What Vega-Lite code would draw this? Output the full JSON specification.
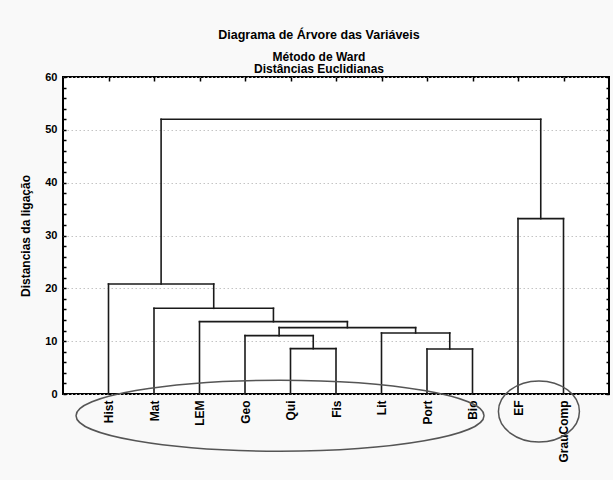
{
  "$schema": "https://vega.github.io/schema/vega-lite/v6.json",
  "autosize": {"type": "none"},
  "padding": {"left": 63, "top": 77, "right": 4, "bottom": 86},
  "width": 546,
  "height": 317,
  "background": "#f9f9f9",
  "config": {
    "font": "Liberation Sans",
    "view": {"fill": "white", "stroke": "black", "strokeWidth": 2},
    "axis": {
      "labelFont": "Liberation Sans",
      "labelFontWeight": "bold",
      "labelColor": "black",
      "titleFont": "Liberation Sans",
      "titleFontWeight": "bold",
      "titleColor": "black",
      "tickColor": "black",
      "tickWidth": 1.5
    }
  },
  "title": {
    "text": "Diagrama de Árvore das Variáveis",
    "subtitle": ["Método de Ward", "Distâncias Euclidianas"],
    "font": "Liberation Sans",
    "fontSize": 12.5,
    "fontWeight": "bold",
    "color": "black",
    "subtitleFont": "Liberation Sans",
    "subtitleFontSize": 12,
    "subtitleFontWeight": "bold",
    "subtitleColor": "black",
    "subtitleLineHeight": 12.5,
    "subtitlePadding": 10,
    "anchor": "middle",
    "dx": -17,
    "dy": 6,
    "offset": 2
  },
  "datasets": {
    "merges": [
      {"left": 5, "right": 6, "h": 8.58, "hl": 0, "hr": 0},
      {"left": 8, "right": 9, "h": 8.52, "hl": 0, "hr": 0},
      {"left": 4, "right": 5.5, "h": 11.04, "hl": 0, "hr": 8.58},
      {"left": 7, "right": 8.5, "h": 11.55, "hl": 0, "hr": 8.52},
      {"left": 4.75, "right": 7.75, "h": 12.56, "hl": 11.04, "hr": 11.55},
      {"left": 3, "right": 6.25, "h": 13.69, "hl": 0, "hr": 12.56},
      {"left": 2, "right": 4.625, "h": 16.22, "hl": 0, "hr": 13.69},
      {"left": 1, "right": 3.3125, "h": 20.82, "hl": 0, "hr": 16.22},
      {"left": 10, "right": 11, "h": 33.19, "hl": 0, "hr": 0},
      {"left": 2.15625, "right": 10.5, "h": 51.99, "hl": 20.82, "hr": 33.19}
    ]
  },
  "layer": [
    {
      "data": {"name": "merges"},
      "mark": {"type": "rule", "color": "#1a1a1a", "strokeWidth": 1.6, "strokeCap": "square"},
      "encoding": {
        "x": {
          "field": "left", "type": "quantitative",
          "scale": {"domain": [0, 12], "nice": false, "zero": false},
          "axis": {
            "orient": "bottom",
            "values": [1, 2, 3, 4, 5, 6, 7, 8, 9, 10, 11],
            "labelExpr": "['','Hist','Mat','LEM','Geo','Qui','Fis','Lit','Port','Bio','EF','GrauComp'][datum.value]",
            "labelAngle": -90,
            "labelFontSize": 12,
            "labelPadding": 6,
            "labelOverlap": false,
            "ticks": false,
            "domain": false,
            "grid": false,
            "title": null
          }
        },
        "x2": {"field": "right"},
        "y": {
          "field": "h", "type": "quantitative",
          "scale": {"domain": [0, 60], "nice": false},
          "axis": {
            "orient": "left",
            "values": [0, 2, 4, 6, 8, 10, 12, 14, 16, 18, 20, 22, 24, 26, 28, 30, 32, 34, 36, 38, 40, 42, 44, 46, 48, 50, 52, 54, 56, 58, 60],
            "labelExpr": "datum.value % 10 === 0 ? datum.label : ''",
            "labelOverlap": false,
            "labelFontSize": 11,
            "labelPadding": 9,
            "tickSize": -3,
            "domain": false,
            "grid": true,
            "gridColor": "#c4c4c4",
            "gridDash": [1.5, 2.5],
            "gridWidth": 1,
            "gridOpacity": {"condition": {"test": "datum.value % 10 === 0", "value": 1}, "value": 0},
            "title": "Distancias da ligação",
            "titleFontSize": 12,
            "titlePadding": 12
          }
        }
      }
    },
    {
      "data": {"name": "merges"},
      "mark": {"type": "rule", "color": "#1a1a1a", "strokeWidth": 1.6, "strokeCap": "square"},
      "encoding": {
        "x": {"field": "left", "type": "quantitative", "scale": {"domain": [0, 12], "nice": false, "zero": false}, "axis": null},
        "y": {"field": "hl", "type": "quantitative", "scale": {"domain": [0, 60], "nice": false}, "axis": null},
        "y2": {"field": "h"}
      }
    },
    {
      "data": {"name": "merges"},
      "mark": {"type": "rule", "color": "#1a1a1a", "strokeWidth": 1.6, "strokeCap": "square"},
      "encoding": {
        "x": {"field": "right", "type": "quantitative", "scale": {"domain": [0, 12], "nice": false, "zero": false}, "axis": null},
        "y": {"field": "hr", "type": "quantitative", "scale": {"domain": [0, 60], "nice": false}, "axis": null},
        "y2": {"field": "h"}
      }
    },
    {
      "data": {"values": [{"group": "disciplinas", "cx": 4.77, "cy": -4.1}]},
      "mark": {
        "type": "point",
        "shape": "M-1,0C-1,-0.0961,-0.5523,-0.174,0,-0.174C0.5523,-0.174,1,-0.0961,1,0C1,0.0961,0.5523,0.174,0,0.174C-0.5523,0.174,-1,0.0961,-1,0Z",
        "size": 166464,
        "filled": false,
        "stroke": "#555555",
        "strokeWidth": 1.5,
        "opacity": 1
      },
      "encoding": {
        "x": {
          "field": "cx", "type": "quantitative",
          "scale": {"domain": [0, 12], "nice": false, "zero": false},
          "axis": {
            "orient": "top",
            "values": [1, 2, 3, 4, 5, 6, 7, 8, 9, 10, 11],
            "labels": false,
            "tickSize": -4,
            "domain": false,
            "grid": false,
            "title": null
          }
        },
        "y": {
          "field": "cy", "type": "quantitative",
          "scale": {"domain": [0, 60], "nice": false},
          "axis": {
            "orient": "right",
            "values": [0, 2, 4, 6, 8, 10, 12, 14, 16, 18, 20, 22, 24, 26, 28, 30, 32, 34, 36, 38, 40, 42, 44, 46, 48, 50, 52, 54, 56, 58, 60],
            "labels": false,
            "tickSize": -3,
            "domain": false,
            "grid": false,
            "title": null
          }
        }
      }
    },
    {
      "data": {"values": [{"group": "outras", "cx": 10.46, "cy": -3.31}]},
      "mark": {
        "type": "point",
        "shape": "M-1,0C-1,-0.416,-0.5523,-0.753,0,-0.753C0.5523,-0.753,1,-0.416,1,0C1,0.416,0.5523,0.753,0,0.753C-0.5523,0.753,-1,0.416,-1,0Z",
        "size": 6561,
        "filled": false,
        "stroke": "#555555",
        "strokeWidth": 1.5,
        "opacity": 1
      },
      "encoding": {
        "x": {"field": "cx", "type": "quantitative", "scale": {"domain": [0, 12], "nice": false, "zero": false}, "axis": null},
        "y": {"field": "cy", "type": "quantitative", "scale": {"domain": [0, 60], "nice": false}, "axis": null}
      }
    }
  ],
  "resolve": {"axis": {"x": "independent", "y": "independent"}}
}
